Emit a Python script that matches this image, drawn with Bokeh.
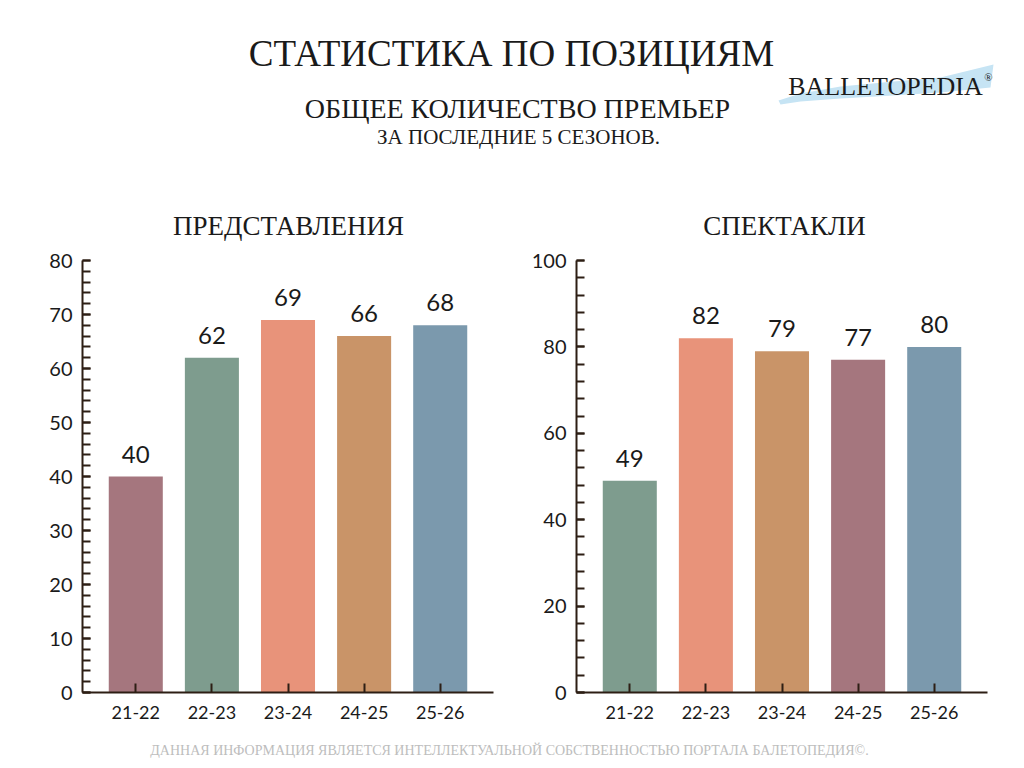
from bokeh.plotting import figure
from bokeh.models import Range1d, FactorRange, SingleIntervalTicker, ColumnDataSource
from bokeh.layouts import column, row
from bokeh.embed import file_html
from bokeh.resources import INLINE
from bokeh.core.properties import value

# ---- data ----
seasons = ["21-22", "22-23", "23-24", "24-25", "25-26"]
perf_values = [40, 62, 69, 66, 68]
show_values = [49, 82, 79, 77, 80]

MAUVE = "#a5767e"
SAGE = "#7e9c8e"
SALMON = "#e8937a"
TAN = "#c99468"
BLUE = "#7b99ad"
perf_colors = [MAUVE, SAGE, SALMON, TAN, BLUE]
show_colors = [SAGE, SALMON, TAN, MAUVE, BLUE]

title_main = "СТАТИСТИКА ПО ПОЗИЦИЯМ"
title_sub = "ОБЩЕЕ КОЛИЧЕСТВО ПРЕМЬЕР"
title_sub2 = "ЗА ПОСЛЕДНИЕ 5 СЕЗОНОВ."
chart_titles = ["ПРЕДСТАВЛЕНИЯ", "СПЕКТАКЛИ"]
footer_text = "ДАННАЯ ИНФОРМАЦИЯ ЯВЛЯЕТСЯ ИНТЕЛЛЕКТУАЛЬНОЙ СОБСТВЕННОСТЬЮ ПОРТАЛА БАЛЕТОПЕДИЯ©."

SERIF = value("Liberation Serif")
SANS = value("Lato")
INK = "#1a1a1a"
AXIS = "#2d1e14"


def blank(width, height, x0, x1, y0, y1):
    p = figure(width=width, height=height, x_range=Range1d(x0, x1), y_range=Range1d(y1, y0),
               x_axis_location=None, y_axis_location=None, min_border=0,
               toolbar_location=None, output_backend="svg")
    p.grid.visible = False
    p.outline_line_color = None
    return p


# ---- header (page coordinates) ----
head = blank(1016, 248, 0, 1016, 0, 248)
head.text(x=[511], y=[53], text=[title_main], text_font=SERIF, text_font_size="37px",
          text_align="center", text_baseline="middle", text_color=INK)
head.text(x=[517], y=[108], text=[title_sub], text_font=SERIF, text_font_size="28px",
          text_align="center", text_baseline="middle", text_color=INK)
head.text(x=[518], y=[136], text=[title_sub2], text_font=SERIF, text_font_size="21px",
          text_align="center", text_baseline="middle", text_color=INK)
head.text(x=[288, 784], y=[225, 225], text=chart_titles, text_font=SERIF, text_font_size="27px",
          text_align="center", text_baseline="middle", text_color=INK)
# logo
head.patch(x=[778, 800, 840, 893, 940, 993, 990, 940, 893, 840, 800, 780],
           y=[100, 93, 86, 81, 77, 64, 87, 92, 95, 98, 101, 104],
           fill_color="#c6e4f4", line_color=None)
head.text(x=[885], y=[86], text=["BALLETOPEDIA"], text_font=SERIF, text_font_size="26px",
          text_align="center", text_baseline="middle", text_color=INK)
head.text(x=[988], y=[76], text=["®"], text_font=SERIF, text_font_size="11px",
          text_align="center", text_baseline="middle", text_color=INK)


# ---- charts ----
def chart(vals, colors, ymax, interval, width, left_b, right_b):
    p = figure(x_range=FactorRange(factors=seasons, range_padding=0.2, range_padding_units="absolute"),
               y_range=Range1d(0, ymax), width=width, height=482,
               min_border_left=left_b, min_border_right=right_b, min_border_top=12, min_border_bottom=38,
               toolbar_location=None, output_backend="svg")
    src = ColumnDataSource(dict(x=seasons, top=vals, color=colors, label=[str(v) for v in vals]))
    p.vbar(x="x", top="top", width=0.71, color="color", source=src, line_color=None)
    p.text(x="x", y="top", text="label", source=src, text_font=SANS, text_font_size="24px",
           text_align="center", text_baseline="bottom", y_offset=-14, text_color=INK)
    p.grid.visible = False
    p.outline_line_color = None
    p.yaxis.ticker = SingleIntervalTicker(interval=interval, num_minor_ticks=5)
    for ax in (p.xaxis, p.yaxis):
        ax.axis_line_color = AXIS
        ax.axis_line_width = 2
        ax.major_tick_line_color = AXIS
        ax.major_tick_line_width = 2
        ax.major_tick_out = 0
        ax.major_label_text_color = INK
        ax.major_label_text_font = "Lato"
    p.yaxis.major_tick_in = 8
    p.yaxis.minor_tick_in = 8
    p.yaxis.minor_tick_out = 0
    p.yaxis.minor_tick_line_color = AXIS
    p.yaxis.minor_tick_line_width = 2
    p.yaxis.major_label_text_font_size = "20px"
    p.yaxis.major_label_standoff = 10
    p.xaxis.major_tick_in = 9
    p.xaxis.major_label_text_font_size = "18px"
    p.xaxis.major_label_standoff = 13
    return p


left = chart(perf_values, perf_colors, 80, 10, 505, 82, 12)
right = chart(show_values, show_colors, 100, 20, 511, 71, 29)

# ---- footer ----
foot = blank(1016, 30, 0, 1016, 730, 760)
foot.text(x=[509], y=[750], text=[footer_text], text_font=SERIF, text_font_size="14px",
          text_align="center", text_baseline="middle", text_color="#bdbdbd")

page = column(head, row(left, right), foot)
open("out.html", "w").write(file_html(page, INLINE))
